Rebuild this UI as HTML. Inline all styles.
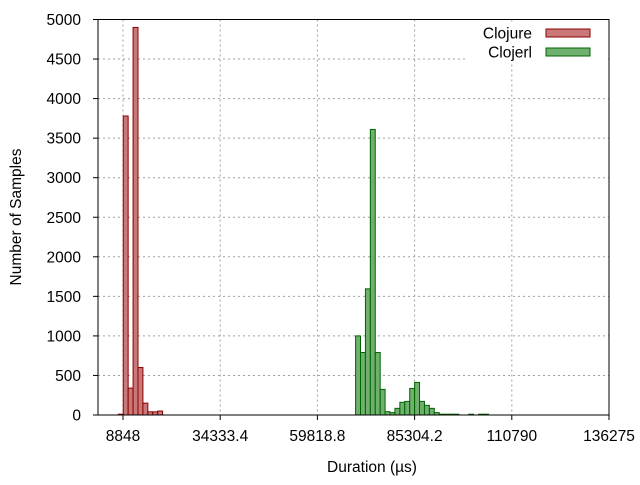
<!DOCTYPE html>
<html><head><meta charset="utf-8"><style>
body{margin:0;background:#fff}
svg text{font-family:"Liberation Sans",sans-serif;font-size:15.5px;fill:#000}
</style></head><body>
<svg id="c" width="640" height="480" xmlns="http://www.w3.org/2000/svg">
<rect x="0" y="0" width="640" height="480" fill="#fff"/>
<g id="grid"></g><g id="bars"></g><g id="axes"></g>
</svg>
<script>
const yTicks=[0,500,1000,1500,2000,2500,3000,3500,4000,4500,5000];
const xTicks=[8848,34333.4,59818.8,85304.2,110790,136275];
const xTickLabels=["8848","34333.4","59818.8","85304.2","110790","136275"];
const binWidth=1290;
const clojureStart=7620;
const clojureCounts=[10,3780,340,4900,600,150,40,40,50];
const clojerlStart=69830;
const clojerlCounts=[1000,790,1595,3610,790,324,42,30,84,160,172,336,412,172,122,84,30,10,10,10,10,0,0,10,0,10,10];
const L=98,R=609,T=19.5,B=415;
const X=v=>123+(v-8848)*(609-123)/(136275-8848);
const Y=v=>B-v*(B-T)/5000;
const NS="http://www.w3.org/2000/svg";
function mk(p,t,a){const e=document.createElementNS(NS,t);for(const k in a)e.setAttribute(k,a[k]);p.appendChild(e);return e;}
const grid=document.getElementById('grid'),bars=document.getElementById('bars'),axes=document.getElementById('axes');
yTicks.forEach(v=>{
 if(v>0&&v<5000){const g=mk(grid,'line',{x1:L,x2:R,y1:Y(v),y2:Y(v),stroke:'#a0a0a0','stroke-dasharray':'2,3'});
 
 }
 const t=mk(axes,'line',{x1:L-5,x2:L,y1:Y(v),y2:Y(v),stroke:'#000'});
 const tx=mk(axes,'text',{x:L-17,y:Y(v)+5.5,'text-anchor':'end'});tx.textContent=v;
 
 
});
xTicks.forEach((v,i)=>{
 if(i<xTicks.length-1){const g=mk(grid,'line',{x1:X(v),x2:X(v),y1:T,y2:B,stroke:'#a0a0a0','stroke-dasharray':'2,3'});
 
 }
 mk(axes,'line',{x1:X(v),x2:X(v),y1:B,y2:B+5,stroke:'#000'});
 const tx=mk(axes,'text',{x:X(v),y:B+26,'text-anchor':'middle'});tx.textContent=xTickLabels[i];
 
 
});
function series(start,counts,fill,stroke,name){
 counts.forEach((c,i)=>{if(!c)return;
  const x0=X(start+i*binWidth),x1=X(start+(i+1)*binWidth);
  const r=mk(bars,'rect',{x:x0,y:Y(c),width:x1-x0,height:B-Y(c),fill:fill,stroke:stroke,'stroke-width':1});
  
  
 });
}
series(clojureStart,clojureCounts,'#c87878','#8b0000','clojure-bar');
series(clojerlStart,clojerlCounts,'#6fb06f','#006400','clojerl-bar');
const lg=mk(axes,'rect',{x:465,y:22,width:143,height:40,fill:'#fff'});


mk(axes,'rect',{x:L,y:T,width:R-L,height:B-T,fill:'none',stroke:'#000'});
const leg=[["Clojure",'#c87878','#8b0000',33],["Clojerl",'#6fb06f','#006400',52]];
leg.forEach(l=>{
 const t=mk(axes,'text',{x:532,y:l[3]+5.5,'text-anchor':'end'});t.textContent=l[0];
 
 
 mk(axes,'rect',{x:546,y:l[3]-4,width:44,height:8,fill:l[1],stroke:l[2]});
});
const xt=mk(axes,'text',{x:372,y:472,'text-anchor':'middle'});xt.textContent="Duration (µs)";


const yt=mk(axes,'text',{x:21,y:217,'text-anchor':'middle',transform:'rotate(-90 21 217)'});yt.textContent="Number of Samples";


</script>
</body></html>
